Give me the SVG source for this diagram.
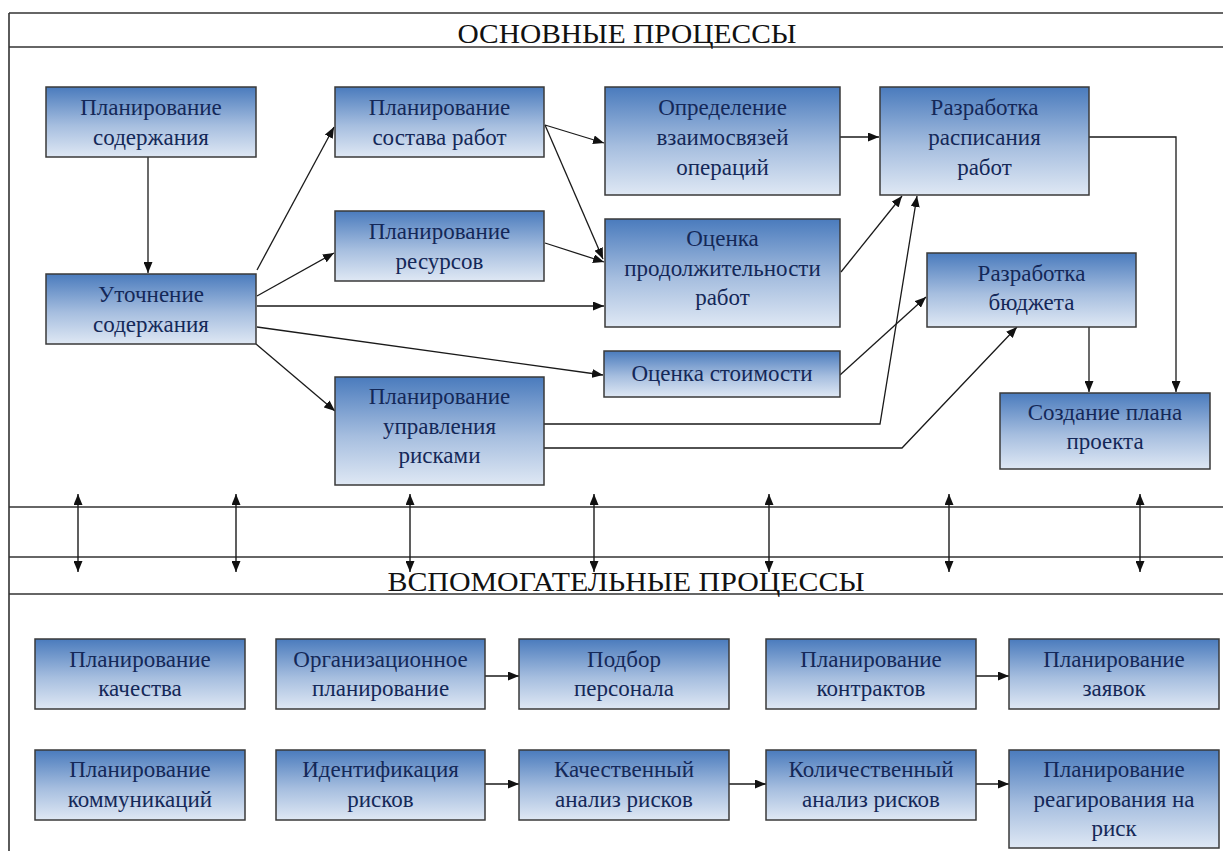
<svg xmlns="http://www.w3.org/2000/svg" width="1223" height="851" viewBox="0 0 1223 851">
  <defs>
    <linearGradient id="boxFill" x1="0" y1="0" x2="0" y2="1">
      <stop offset="0" stop-color="#4a7bbd"/>
      <stop offset="0.55" stop-color="#a6bedf"/>
      <stop offset="1" stop-color="#dfe8f4"/>
    </linearGradient>
    <marker id="arr" viewBox="0 0 11 9" refX="11" refY="4.5" markerWidth="11" markerHeight="9" markerUnits="userSpaceOnUse" orient="auto-start-reverse">
      <path d="M0,0 L11,4.5 L0,9 Z" fill="#111"/>
    </marker>
    <style>
      .box { fill: url(#boxFill); stroke: #3a3a3a; stroke-width: 1.5; }
      .lbl { font-family: "Liberation Serif", "Times New Roman", serif; font-size: 23px; fill: #142858; text-anchor: middle; }
      .head { font-family: "Liberation Serif", "Times New Roman", serif; font-size: 28px; fill: #111; text-anchor: middle; }
      .frame { stroke: #333; stroke-width: 1.6; fill: none; }
      .conn { stroke: #1a1a1a; stroke-width: 1.3; fill: none; marker-end: url(#arr); }
      .both { stroke: #1a1a1a; stroke-width: 1.4; fill: none; marker-start: url(#arr); marker-end: url(#arr); }
    </style>
  </defs>

  <rect width="1223" height="851" fill="#fff"/>

  <!-- frame and section bands -->
  <g id="frame">
    <line class="frame" x1="9" y1="13" x2="1223" y2="13" stroke="#555"/>
    <line class="frame" x1="9" y1="47" x2="1223" y2="47"/>
    <line class="frame" x1="9" y1="13" x2="9" y2="851"/>
    <line class="frame" x1="9" y1="507" x2="1223" y2="507"/>
    <line class="frame" x1="9" y1="557" x2="1223" y2="557"/>
    <line class="frame" x1="9" y1="594" x2="1223" y2="594"/>
    <text class="head" x="627" y="43" textLength="339" lengthAdjust="spacingAndGlyphs">ОСНОВНЫЕ ПРОЦЕССЫ</text>
    <text class="head" x="626" y="591" textLength="477" lengthAdjust="spacingAndGlyphs">ВСПОМОГАТЕЛЬНЫЕ ПРОЦЕССЫ</text>
  </g>

  <!-- connectors -->
  <g id="connectors">
    <line class="conn" x1="148" y1="157" x2="148" y2="273"/>
    <line class="conn" x1="257" y1="270" x2="334" y2="127"/>
    <line class="conn" x1="257" y1="296" x2="334" y2="253"/>
    <line class="conn" x1="257" y1="306" x2="604" y2="306"/>
    <line class="conn" x1="257" y1="327" x2="603" y2="375"/>
    <line class="conn" x1="256" y1="344" x2="335" y2="411"/>
    <line class="conn" x1="545" y1="125" x2="604" y2="143"/>
    <line class="conn" x1="545" y1="125" x2="603" y2="259"/>
    <line class="conn" x1="545" y1="243" x2="604" y2="262"/>
    <line class="conn" x1="840" y1="137" x2="879" y2="137"/>
    <line class="conn" x1="841" y1="272" x2="902" y2="196"/>
    <polyline class="conn" points="544,424 880,424 917,196"/>
    <line class="conn" x1="840" y1="375" x2="926" y2="297"/>
    <polyline class="conn" points="544,448 902,448 1017,327"/>
    <polyline class="conn" points="1089,137 1176,137 1176,392"/>
    <line class="conn" x1="1089" y1="327" x2="1089" y2="392"/>

    <line class="both" x1="78" y1="494" x2="78" y2="572"/>
    <line class="both" x1="236" y1="494" x2="236" y2="572"/>
    <line class="both" x1="410" y1="494" x2="410" y2="572"/>
    <line class="both" x1="594" y1="494" x2="594" y2="572"/>
    <line class="both" x1="769" y1="494" x2="769" y2="572"/>
    <line class="both" x1="949" y1="494" x2="949" y2="572"/>
    <line class="both" x1="1140" y1="494" x2="1140" y2="572"/>

    <line class="conn" x1="485" y1="676" x2="519" y2="676"/>
    <line class="conn" x1="976" y1="676" x2="1009" y2="676"/>
    <line class="conn" x1="485" y1="784" x2="519" y2="784"/>
    <line class="conn" x1="729" y1="784" x2="766" y2="784"/>
    <line class="conn" x1="976" y1="784" x2="1009" y2="784"/>
  </g>

  <!-- main processes -->
  <g id="scope-planning">
    <rect class="box" x="46" y="87" width="210" height="70"/>
    <text class="lbl" x="151" y="115">Планирование</text>
    <text class="lbl" x="151" y="145">содержания</text>
  </g>
  <g id="scope-definition">
    <rect class="box" x="46" y="274" width="210" height="70"/>
    <text class="lbl" x="151" y="302">Уточнение</text>
    <text class="lbl" x="151" y="332">содержания</text>
  </g>
  <g id="activity-definition">
    <rect class="box" x="335" y="87" width="209" height="70"/>
    <text class="lbl" x="439.5" y="115">Планирование</text>
    <text class="lbl" x="439.5" y="145">состава работ</text>
  </g>
  <g id="resource-planning">
    <rect class="box" x="335" y="211" width="209" height="70"/>
    <text class="lbl" x="439.5" y="239">Планирование</text>
    <text class="lbl" x="439.5" y="269">ресурсов</text>
  </g>
  <g id="risk-management-planning">
    <rect class="box" x="335" y="377" width="209" height="108"/>
    <text class="lbl" x="439.5" y="404">Планирование</text>
    <text class="lbl" x="439.5" y="434">управления</text>
    <text class="lbl" x="439.5" y="463">рисками</text>
  </g>
  <g id="activity-sequencing">
    <rect class="box" x="605" y="87" width="235" height="108"/>
    <text class="lbl" x="722.5" y="115">Определение</text>
    <text class="lbl" x="722.5" y="145">взаимосвязей</text>
    <text class="lbl" x="722.5" y="175">операций</text>
  </g>
  <g id="duration-estimating">
    <rect class="box" x="605" y="219" width="235" height="108"/>
    <text class="lbl" x="722.5" y="246">Оценка</text>
    <text class="lbl" x="722.5" y="276">продолжительности</text>
    <text class="lbl" x="722.5" y="305">работ</text>
  </g>
  <g id="cost-estimating">
    <rect class="box" x="604" y="351" width="236" height="46"/>
    <text class="lbl" x="722" y="381">Оценка стоимости</text>
  </g>
  <g id="schedule-development">
    <rect class="box" x="880" y="87" width="209" height="108"/>
    <text class="lbl" x="984.5" y="115">Разработка</text>
    <text class="lbl" x="984.5" y="145">расписания</text>
    <text class="lbl" x="984.5" y="175">работ</text>
  </g>
  <g id="cost-budgeting">
    <rect class="box" x="927" y="253" width="209" height="74"/>
    <text class="lbl" x="1031.5" y="281">Разработка</text>
    <text class="lbl" x="1031.5" y="310">бюджета</text>
  </g>
  <g id="project-plan">
    <rect class="box" x="1000" y="393" width="210" height="76"/>
    <text class="lbl" x="1105" y="420">Создание плана</text>
    <text class="lbl" x="1105" y="449">проекта</text>
  </g>

  <!-- supporting processes -->
  <g id="quality-planning">
    <rect class="box" x="35" y="639" width="210" height="70"/>
    <text class="lbl" x="140" y="667">Планирование</text>
    <text class="lbl" x="140" y="696">качества</text>
  </g>
  <g id="organizational-planning">
    <rect class="box" x="276" y="639" width="209" height="70"/>
    <text class="lbl" x="380.5" y="667">Организационное</text>
    <text class="lbl" x="380.5" y="696">планирование</text>
  </g>
  <g id="staff-acquisition">
    <rect class="box" x="519" y="639" width="210" height="70"/>
    <text class="lbl" x="624" y="667">Подбор</text>
    <text class="lbl" x="624" y="696">персонала</text>
  </g>
  <g id="procurement-planning">
    <rect class="box" x="766" y="639" width="210" height="70"/>
    <text class="lbl" x="871" y="667">Планирование</text>
    <text class="lbl" x="871" y="696">контрактов</text>
  </g>
  <g id="solicitation-planning">
    <rect class="box" x="1009" y="639" width="210" height="70"/>
    <text class="lbl" x="1114" y="667">Планирование</text>
    <text class="lbl" x="1114" y="696">заявок</text>
  </g>
  <g id="communications-planning">
    <rect class="box" x="35" y="750" width="210" height="70"/>
    <text class="lbl" x="140" y="777">Планирование</text>
    <text class="lbl" x="140" y="807">коммуникаций</text>
  </g>
  <g id="risk-identification">
    <rect class="box" x="276" y="750" width="209" height="70"/>
    <text class="lbl" x="380.5" y="777">Идентификация</text>
    <text class="lbl" x="380.5" y="807">рисков</text>
  </g>
  <g id="qualitative-risk-analysis">
    <rect class="box" x="519" y="750" width="210" height="70"/>
    <text class="lbl" x="624" y="777">Качественный</text>
    <text class="lbl" x="624" y="807">анализ рисков</text>
  </g>
  <g id="quantitative-risk-analysis">
    <rect class="box" x="766" y="750" width="210" height="70"/>
    <text class="lbl" x="871" y="777">Количественный</text>
    <text class="lbl" x="871" y="807">анализ рисков</text>
  </g>
  <g id="risk-response-planning">
    <rect class="box" x="1009" y="750" width="210" height="98"/>
    <text class="lbl" x="1114" y="777">Планирование</text>
    <text class="lbl" x="1114" y="807">реагирования на</text>
    <text class="lbl" x="1114" y="836">риск</text>
  </g>
</svg>
